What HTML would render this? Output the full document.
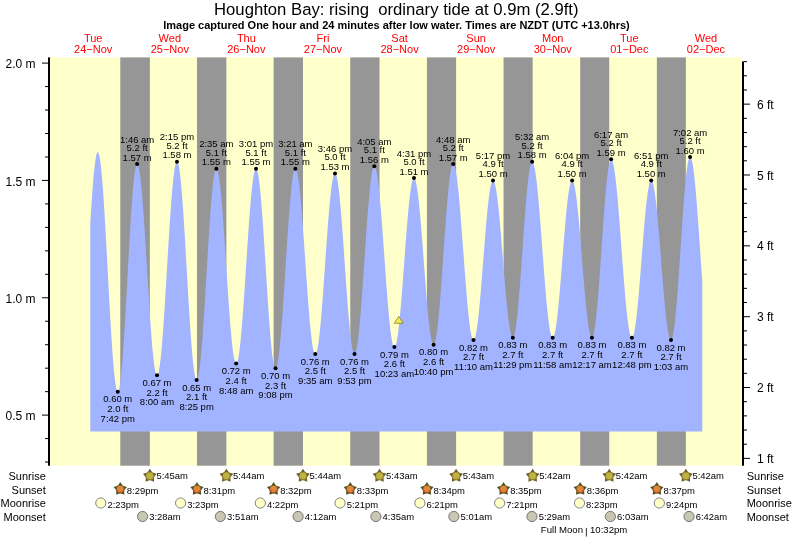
<!DOCTYPE html>
<html><head><meta charset="utf-8"><style>
html,body{margin:0;padding:0;background:#fff;overflow:hidden}
svg{display:block;will-change:transform}
text{font-family:"Liberation Sans",sans-serif}
</style></head><body>
<svg width="793" height="539" viewBox="0 0 793 539">
<rect x="50" y="57.4" width="692" height="408.3" fill="#ffffcc"/>
<rect x="120.27" y="57.4" width="29.57" height="408.3" fill="#969696"/>
<rect x="196.97" y="57.4" width="29.41" height="408.3" fill="#969696"/>
<rect x="273.62" y="57.4" width="29.36" height="408.3" fill="#969696"/>
<rect x="350.26" y="57.4" width="29.25" height="408.3" fill="#969696"/>
<rect x="426.91" y="57.4" width="29.20" height="408.3" fill="#969696"/>
<rect x="503.56" y="57.4" width="29.09" height="408.3" fill="#969696"/>
<rect x="580.20" y="57.4" width="29.04" height="408.3" fill="#969696"/>
<rect x="656.85" y="57.4" width="28.99" height="408.3" fill="#969696"/>
<path d="M90.30,431.50 L90.30,223.23 L90.55,219.09 L90.80,215.02 L91.05,211.03 L91.30,207.13 L91.55,203.32 L91.80,199.60 L92.05,196.00 L92.30,192.50 L92.55,189.12 L92.80,185.85 L93.05,182.72 L93.30,179.71 L93.55,176.84 L93.80,174.11 L94.05,171.53 L94.30,169.09 L94.55,166.81 L94.80,164.68 L95.05,162.71 L95.30,160.91 L95.55,159.26 L95.80,157.79 L96.05,156.49 L96.30,155.36 L96.55,154.40 L96.80,153.62 L97.05,153.02 L97.30,152.59 L97.55,152.34 L97.80,152.28 L98.05,152.39 L98.30,152.69 L98.55,153.17 L98.80,153.83 L99.05,154.68 L99.30,155.71 L99.55,156.92 L99.80,158.30 L100.05,159.86 L100.30,161.59 L100.55,163.50 L100.80,165.57 L101.05,167.80 L101.30,170.20 L101.55,172.75 L101.80,175.45 L102.05,178.31 L102.30,181.30 L102.55,184.44 L102.80,187.71 L103.05,191.12 L103.30,194.64 L103.55,198.29 L103.80,202.05 L104.05,205.92 L104.30,209.89 L104.55,213.95 L104.80,218.11 L105.05,222.35 L105.30,226.66 L105.55,231.05 L105.80,235.49 L106.05,240.00 L106.30,244.55 L106.55,249.14 L106.80,253.77 L107.05,258.43 L107.30,263.11 L107.55,267.80 L107.80,272.50 L108.05,277.20 L108.30,281.89 L108.55,286.57 L108.80,291.22 L109.05,295.84 L109.30,300.43 L109.55,304.97 L109.80,309.46 L110.05,313.89 L110.30,318.26 L110.55,322.56 L110.80,326.78 L111.05,330.91 L111.30,334.96 L111.55,338.90 L111.80,342.75 L112.05,346.48 L112.30,350.10 L112.55,353.60 L112.80,356.97 L113.05,360.21 L113.30,363.32 L113.55,366.28 L113.80,369.10 L114.05,371.77 L114.30,374.29 L114.55,376.65 L114.80,378.84 L115.05,380.87 L115.30,382.74 L115.55,384.43 L115.80,385.95 L116.05,387.29 L116.30,388.46 L116.55,389.44 L116.80,390.25 L117.05,390.87 L117.30,391.31 L117.55,391.57 L117.80,391.64 L118.05,391.52 L118.30,391.22 L118.55,390.73 L118.80,390.05 L119.05,389.19 L119.30,388.15 L119.55,386.93 L119.80,385.52 L120.05,383.94 L120.30,382.19 L120.55,380.26 L120.80,378.16 L121.05,375.90 L121.30,373.48 L121.55,370.90 L121.80,368.17 L122.05,365.28 L122.30,362.26 L122.55,359.09 L122.80,355.80 L123.05,352.37 L123.30,348.82 L123.55,345.15 L123.80,341.38 L124.05,337.50 L124.30,333.52 L124.55,329.44 L124.80,325.29 L125.05,321.05 L125.30,316.75 L125.55,312.38 L125.80,307.95 L126.05,303.48 L126.30,298.96 L126.55,294.41 L126.80,289.83 L127.05,285.23 L127.30,280.61 L127.55,276.00 L127.80,271.38 L128.05,266.78 L128.30,262.20 L128.55,257.64 L128.80,253.11 L129.05,248.63 L129.30,244.19 L129.55,239.81 L129.80,235.49 L130.05,231.24 L130.30,227.06 L130.55,222.98 L130.80,218.98 L131.05,215.07 L131.30,211.27 L131.55,207.58 L131.80,204.01 L132.05,200.56 L132.30,197.23 L132.55,194.04 L132.80,190.98 L133.05,188.07 L133.30,185.31 L133.55,182.69 L133.80,180.24 L134.05,177.94 L134.30,175.81 L134.55,173.85 L134.80,172.06 L135.05,170.44 L135.30,169.00 L135.55,167.74 L135.80,166.66 L136.05,165.76 L136.30,165.04 L136.55,164.51 L136.80,164.17 L137.05,164.02 L137.30,164.05 L137.55,164.24 L137.80,164.60 L138.05,165.12 L138.30,165.80 L138.55,166.65 L138.80,167.65 L139.05,168.82 L139.30,170.14 L139.55,171.62 L139.80,173.25 L140.05,175.03 L140.30,176.95 L140.55,179.02 L140.80,181.24 L141.05,183.59 L141.30,186.07 L141.55,188.69 L141.80,191.43 L142.05,194.29 L142.30,197.27 L142.55,200.37 L142.80,203.57 L143.05,206.87 L143.30,210.27 L143.55,213.77 L143.80,217.35 L144.05,221.01 L144.30,224.75 L144.55,228.56 L144.80,232.43 L145.05,236.36 L145.30,240.34 L145.55,244.37 L145.80,248.44 L146.05,252.54 L146.30,256.66 L146.55,260.81 L146.80,264.97 L147.05,269.14 L147.30,273.31 L147.55,277.47 L147.80,281.62 L148.05,285.75 L148.30,289.86 L148.55,293.93 L148.80,297.97 L149.05,301.96 L149.30,305.91 L149.55,309.79 L149.80,313.62 L150.05,317.37 L150.30,321.05 L150.55,324.65 L150.80,328.16 L151.05,331.59 L151.30,334.91 L151.55,338.14 L151.80,341.26 L152.05,344.26 L152.30,347.15 L152.55,349.92 L152.80,352.57 L153.05,355.08 L153.30,357.46 L153.55,359.71 L153.80,361.81 L154.05,363.77 L154.30,365.58 L154.55,367.25 L154.80,368.76 L155.05,370.12 L155.30,371.32 L155.55,372.36 L155.80,373.24 L156.05,373.96 L156.30,374.52 L156.55,374.91 L156.80,375.14 L157.05,375.21 L157.30,375.11 L157.55,374.85 L157.80,374.42 L158.05,373.82 L158.30,373.06 L158.55,372.15 L158.80,371.06 L159.05,369.83 L159.30,368.43 L159.55,366.88 L159.80,365.17 L160.05,363.32 L160.30,361.32 L160.55,359.17 L160.80,356.89 L161.05,354.46 L161.30,351.91 L161.55,349.22 L161.80,346.41 L162.05,343.48 L162.30,340.43 L162.55,337.27 L162.80,334.00 L163.05,330.63 L163.30,327.17 L163.55,323.61 L163.80,319.97 L164.05,316.25 L164.30,312.46 L164.55,308.59 L164.80,304.67 L165.05,300.68 L165.30,296.65 L165.55,292.58 L165.80,288.46 L166.05,284.32 L166.30,280.15 L166.55,275.96 L166.80,271.76 L167.05,267.56 L167.30,263.36 L167.55,259.16 L167.80,254.98 L168.05,250.82 L168.30,246.69 L168.55,242.59 L168.80,238.54 L169.05,234.52 L169.30,230.56 L169.55,226.66 L169.80,222.83 L170.05,219.06 L170.30,215.37 L170.55,211.77 L170.80,208.25 L171.05,204.82 L171.30,201.50 L171.55,198.27 L171.80,195.16 L172.05,192.16 L172.30,189.28 L172.55,186.52 L172.80,183.89 L173.05,181.38 L173.30,179.02 L173.55,176.79 L173.80,174.70 L174.05,172.76 L174.30,170.97 L174.55,169.33 L174.80,167.84 L175.05,166.51 L175.30,165.34 L175.55,164.32 L175.80,163.47 L176.05,162.78 L176.30,162.26 L176.55,161.90 L176.80,161.70 L177.05,161.67 L177.30,161.81 L177.55,162.13 L177.80,162.62 L178.05,163.28 L178.30,164.11 L178.55,165.11 L178.80,166.28 L179.05,167.62 L179.30,169.12 L179.55,170.78 L179.80,172.60 L180.05,174.58 L180.30,176.71 L180.55,178.99 L180.80,181.42 L181.05,183.99 L181.30,186.70 L181.55,189.54 L181.80,192.51 L182.05,195.60 L182.30,198.82 L182.55,202.15 L182.80,205.59 L183.05,209.13 L183.30,212.77 L183.55,216.51 L183.80,220.33 L184.05,224.23 L184.30,228.20 L184.55,232.24 L184.80,236.35 L185.05,240.51 L185.30,244.71 L185.55,248.96 L185.80,253.25 L186.05,257.56 L186.30,261.89 L186.55,266.23 L186.80,270.59 L187.05,274.94 L187.30,279.29 L187.55,283.62 L187.80,287.94 L188.05,292.22 L188.30,296.47 L188.55,300.68 L188.80,304.85 L189.05,308.96 L189.30,313.00 L189.55,316.99 L189.80,320.89 L190.05,324.72 L190.30,328.46 L190.55,332.11 L190.80,335.66 L191.05,339.11 L191.30,342.45 L191.55,345.68 L191.80,348.79 L192.05,351.77 L192.30,354.62 L192.55,357.34 L192.80,359.92 L193.05,362.36 L193.30,364.66 L193.55,366.80 L193.80,368.79 L194.05,370.63 L194.30,372.31 L194.55,373.82 L194.80,375.17 L195.05,376.36 L195.30,377.38 L195.55,378.22 L195.80,378.90 L196.05,379.40 L196.30,379.73 L196.55,379.89 L196.80,379.87 L197.05,379.69 L197.30,379.34 L197.55,378.82 L197.80,378.13 L198.05,377.28 L198.30,376.27 L198.55,375.09 L198.80,373.75 L199.05,372.26 L199.30,370.61 L199.55,368.80 L199.80,366.84 L200.05,364.74 L200.30,362.49 L200.55,360.11 L200.80,357.58 L201.05,354.92 L201.30,352.14 L201.55,349.23 L201.80,346.20 L202.05,343.06 L202.30,339.81 L202.55,336.45 L202.80,332.99 L203.05,329.44 L203.30,325.81 L203.55,322.09 L203.80,318.29 L204.05,314.43 L204.30,310.50 L204.55,306.51 L204.80,302.47 L205.05,298.39 L205.30,294.27 L205.55,290.11 L205.80,285.94 L206.05,281.74 L206.30,277.53 L206.55,273.32 L206.80,269.10 L207.05,264.90 L207.30,260.71 L207.55,256.54 L207.80,252.41 L208.05,248.30 L208.30,244.24 L208.55,240.22 L208.80,236.26 L209.05,232.36 L209.30,228.53 L209.55,224.77 L209.80,221.09 L210.05,217.49 L210.30,213.98 L210.55,210.57 L210.80,207.27 L211.05,204.06 L211.30,200.97 L211.55,198.00 L211.80,195.15 L212.05,192.42 L212.30,189.83 L212.55,187.37 L212.80,185.04 L213.05,182.86 L213.30,180.83 L213.55,178.94 L213.80,177.21 L214.05,175.63 L214.30,174.21 L214.55,172.94 L214.80,171.84 L215.05,170.90 L215.30,170.13 L215.55,169.52 L215.80,169.08 L216.05,168.81 L216.30,168.70 L216.55,168.76 L216.80,168.97 L217.05,169.33 L217.30,169.84 L217.55,170.51 L217.80,171.32 L218.05,172.28 L218.30,173.39 L218.55,174.65 L218.80,176.05 L219.05,177.59 L219.30,179.26 L219.55,181.08 L219.80,183.02 L220.05,185.10 L220.30,187.30 L220.55,189.63 L220.80,192.08 L221.05,194.64 L221.30,197.32 L221.55,200.10 L221.80,202.99 L222.05,205.97 L222.30,209.05 L222.55,212.22 L222.80,215.47 L223.05,218.81 L223.30,222.21 L223.55,225.69 L223.80,229.23 L224.05,232.82 L224.30,236.47 L224.55,240.17 L224.80,243.90 L225.05,247.67 L225.30,251.47 L225.55,255.29 L225.80,259.13 L226.05,262.98 L226.30,266.84 L226.55,270.69 L226.80,274.54 L227.05,278.37 L227.30,282.18 L227.55,285.97 L227.80,289.73 L228.05,293.45 L228.30,297.13 L228.55,300.76 L228.80,304.33 L229.05,307.85 L229.30,311.30 L229.55,314.67 L229.80,317.98 L230.05,321.20 L230.30,324.33 L230.55,327.38 L230.80,330.32 L231.05,333.17 L231.30,335.91 L231.55,338.54 L231.80,341.06 L232.05,343.46 L232.30,345.74 L232.55,347.90 L232.80,349.93 L233.05,351.82 L233.30,353.58 L233.55,355.21 L233.80,356.69 L234.05,358.03 L234.30,359.23 L234.55,360.28 L234.80,361.19 L235.05,361.95 L235.30,362.55 L235.55,363.01 L235.80,363.31 L236.05,363.46 L236.30,363.46 L236.55,363.30 L236.80,363.00 L237.05,362.54 L237.30,361.93 L237.55,361.17 L237.80,360.26 L238.05,359.20 L238.30,358.00 L238.55,356.65 L238.80,355.16 L239.05,353.54 L239.30,351.77 L239.55,349.87 L239.80,347.84 L240.05,345.68 L240.30,343.40 L240.55,340.99 L240.80,338.47 L241.05,335.84 L241.30,333.09 L241.55,330.24 L241.80,327.29 L242.05,324.25 L242.30,321.11 L242.55,317.89 L242.80,314.58 L243.05,311.20 L243.30,307.75 L243.55,304.23 L243.80,300.66 L244.05,297.03 L244.30,293.35 L244.55,289.63 L244.80,285.87 L245.05,282.08 L245.30,278.26 L245.55,274.43 L245.80,270.58 L246.05,266.73 L246.30,262.87 L246.55,259.02 L246.80,255.19 L247.05,251.36 L247.30,247.57 L247.55,243.80 L247.80,240.06 L248.05,236.37 L248.30,232.72 L248.55,229.13 L248.80,225.59 L249.05,222.12 L249.30,218.71 L249.55,215.38 L249.80,212.13 L250.05,208.96 L250.30,205.89 L250.55,202.90 L250.80,200.02 L251.05,197.24 L251.30,194.57 L251.55,192.01 L251.80,189.57 L252.05,187.24 L252.30,185.04 L252.55,182.97 L252.80,181.02 L253.05,179.21 L253.30,177.54 L253.55,176.01 L253.80,174.61 L254.05,173.36 L254.30,172.26 L254.55,171.30 L254.80,170.49 L255.05,169.83 L255.30,169.32 L255.55,168.96 L255.80,168.76 L256.05,168.70 L256.30,168.81 L256.55,169.08 L256.80,169.50 L257.05,170.09 L257.30,170.84 L257.55,171.74 L257.80,172.81 L258.05,174.02 L258.30,175.39 L258.55,176.91 L258.80,178.58 L259.05,180.39 L259.30,182.35 L259.55,184.44 L259.80,186.67 L260.05,189.04 L260.30,191.53 L260.55,194.14 L260.80,196.88 L261.05,199.73 L261.30,202.70 L261.55,205.77 L261.80,208.94 L262.05,212.21 L262.30,215.57 L262.55,219.01 L262.80,222.53 L263.05,226.13 L263.30,229.80 L263.55,233.53 L263.80,237.32 L264.05,241.15 L264.30,245.03 L264.55,248.95 L264.80,252.90 L265.05,256.88 L265.30,260.87 L265.55,264.88 L265.80,268.89 L266.05,272.90 L266.30,276.90 L266.55,280.90 L266.80,284.87 L267.05,288.81 L267.30,292.72 L267.55,296.59 L267.80,300.42 L268.05,304.19 L268.30,307.91 L268.55,311.56 L268.80,315.14 L269.05,318.65 L269.30,322.07 L269.55,325.41 L269.80,328.66 L270.05,331.81 L270.30,334.85 L270.55,337.79 L270.80,340.62 L271.05,343.33 L271.30,345.92 L271.55,348.38 L271.80,350.72 L272.05,352.92 L272.30,354.98 L272.55,356.90 L272.80,358.68 L273.05,360.32 L273.30,361.80 L273.55,363.14 L273.80,364.32 L274.05,365.35 L274.30,366.22 L274.55,366.93 L274.80,367.48 L275.05,367.87 L275.30,368.10 L275.55,368.17 L275.80,368.08 L276.05,367.84 L276.30,367.43 L276.55,366.88 L276.80,366.17 L277.05,365.30 L277.30,364.29 L277.55,363.12 L277.80,361.81 L278.05,360.35 L278.30,358.74 L278.55,357.00 L278.80,355.11 L279.05,353.09 L279.30,350.94 L279.55,348.66 L279.80,346.25 L280.05,343.72 L280.30,341.07 L280.55,338.31 L280.80,335.44 L281.05,332.46 L281.30,329.39 L281.55,326.21 L281.80,322.95 L282.05,319.60 L282.30,316.17 L282.55,312.67 L282.80,309.10 L283.05,305.46 L283.30,301.77 L283.55,298.02 L283.80,294.23 L284.05,290.40 L284.30,286.53 L284.55,282.63 L284.80,278.72 L285.05,274.78 L285.30,270.84 L285.55,266.89 L285.80,262.94 L286.05,259.01 L286.30,255.09 L286.55,251.18 L286.80,247.31 L287.05,243.47 L287.30,239.67 L287.55,235.91 L287.80,232.20 L288.05,228.56 L288.30,224.97 L288.55,221.45 L288.80,218.01 L289.05,214.64 L289.30,211.36 L289.55,208.17 L289.80,205.07 L290.05,202.07 L290.30,199.18 L290.55,196.39 L290.80,193.72 L291.05,191.16 L291.30,188.73 L291.55,186.42 L291.80,184.23 L292.05,182.18 L292.30,180.27 L292.55,178.49 L292.80,176.86 L293.05,175.37 L293.30,174.02 L293.55,172.82 L293.80,171.78 L294.05,170.88 L294.30,170.13 L294.55,169.55 L294.80,169.11 L295.05,168.83 L295.30,168.71 L295.55,168.74 L295.80,168.91 L296.05,169.23 L296.30,169.70 L296.55,170.30 L296.80,171.05 L297.05,171.94 L297.30,172.97 L297.55,174.13 L297.80,175.43 L298.05,176.87 L298.30,178.44 L298.55,180.13 L298.80,181.96 L299.05,183.90 L299.30,185.97 L299.55,188.16 L299.80,190.46 L300.05,192.87 L300.30,195.38 L300.55,198.00 L300.80,200.72 L301.05,203.54 L301.30,206.44 L301.55,209.43 L301.80,212.50 L302.05,215.65 L302.30,218.86 L302.55,222.15 L302.80,225.49 L303.05,228.89 L303.30,232.35 L303.55,235.84 L303.80,239.38 L304.05,242.95 L304.30,246.55 L304.55,250.17 L304.80,253.81 L305.05,257.47 L305.30,261.13 L305.55,264.78 L305.80,268.44 L306.05,272.08 L306.30,275.71 L306.55,279.31 L306.80,282.89 L307.05,286.43 L307.30,289.93 L307.55,293.39 L307.80,296.80 L308.05,300.15 L308.30,303.45 L308.55,306.67 L308.80,309.83 L309.05,312.91 L309.30,315.91 L309.55,318.83 L309.80,321.66 L310.05,324.39 L310.30,327.03 L310.55,329.56 L310.80,331.99 L311.05,334.30 L311.30,336.50 L311.55,338.59 L311.80,340.56 L312.05,342.40 L312.30,344.11 L312.55,345.70 L312.80,347.16 L313.05,348.48 L313.30,349.66 L313.55,350.71 L313.80,351.62 L314.05,352.39 L314.30,353.02 L314.55,353.50 L314.80,353.84 L315.05,354.04 L315.30,354.09 L315.55,354.00 L315.80,353.76 L316.05,353.39 L316.30,352.87 L316.55,352.21 L316.80,351.41 L317.05,350.47 L317.30,349.39 L317.55,348.18 L317.80,346.83 L318.05,345.36 L318.30,343.75 L318.55,342.01 L318.80,340.16 L319.05,338.18 L319.30,336.08 L319.55,333.87 L319.80,331.55 L320.05,329.12 L320.30,326.59 L320.55,323.95 L320.80,321.23 L321.05,318.41 L321.30,315.50 L321.55,312.51 L321.80,309.45 L322.05,306.31 L322.30,303.11 L322.55,299.84 L322.80,296.52 L323.05,293.14 L323.30,289.72 L323.55,286.25 L323.80,282.76 L324.05,279.23 L324.30,275.67 L324.55,272.10 L324.80,268.51 L325.05,264.92 L325.30,261.32 L325.55,257.73 L325.80,254.15 L326.05,250.58 L326.30,247.04 L326.55,243.52 L326.80,240.03 L327.05,236.58 L327.30,233.17 L327.55,229.81 L327.80,226.51 L328.05,223.26 L328.30,220.08 L328.55,216.97 L328.80,213.93 L329.05,210.97 L329.30,208.09 L329.55,205.31 L329.80,202.61 L330.05,200.01 L330.30,197.51 L330.55,195.12 L330.80,192.84 L331.05,190.67 L331.30,188.61 L331.55,186.67 L331.80,184.86 L332.05,183.17 L332.30,181.60 L332.55,180.17 L332.80,178.87 L333.05,177.71 L333.30,176.68 L333.55,175.79 L333.80,175.03 L334.05,174.42 L334.30,173.95 L334.55,173.63 L334.80,173.44 L335.05,173.40 L335.30,173.50 L335.55,173.75 L335.80,174.15 L336.05,174.69 L336.30,175.37 L336.55,176.20 L336.80,177.17 L337.05,178.27 L337.30,179.52 L337.55,180.91 L337.80,182.42 L338.05,184.07 L338.30,185.85 L338.55,187.75 L338.80,189.78 L339.05,191.93 L339.30,194.19 L339.55,196.57 L339.80,199.05 L340.05,201.64 L340.30,204.33 L340.55,207.12 L340.80,210.00 L341.05,212.96 L341.30,216.01 L341.55,219.13 L341.80,222.33 L342.05,225.59 L342.30,228.92 L342.55,232.30 L342.80,235.73 L343.05,239.21 L343.30,242.72 L343.55,246.28 L343.80,249.86 L344.05,253.46 L344.30,257.08 L344.55,260.71 L344.80,264.34 L345.05,267.97 L345.30,271.60 L345.55,275.21 L345.80,278.81 L346.05,282.38 L346.30,285.92 L346.55,289.43 L346.80,292.89 L347.05,296.31 L347.30,299.67 L347.55,302.98 L347.80,306.22 L348.05,309.39 L348.30,312.49 L348.55,315.51 L348.80,318.45 L349.05,321.29 L349.30,324.05 L349.55,326.71 L349.80,329.26 L350.05,331.71 L350.30,334.05 L350.55,336.28 L350.80,338.38 L351.05,340.37 L351.30,342.23 L351.55,343.97 L351.80,345.58 L352.05,347.05 L352.30,348.39 L352.55,349.59 L352.80,350.65 L353.05,351.58 L353.30,352.36 L353.55,352.99 L353.80,353.49 L354.05,353.83 L354.30,354.03 L354.55,354.09 L354.80,354.00 L355.05,353.76 L355.30,353.37 L355.55,352.84 L355.80,352.16 L356.05,351.33 L356.30,350.36 L356.55,349.25 L356.80,348.00 L357.05,346.61 L357.30,345.09 L357.55,343.43 L357.80,341.64 L358.05,339.72 L358.30,337.68 L358.55,335.52 L358.80,333.23 L359.05,330.83 L359.30,328.32 L359.55,325.71 L359.80,322.99 L360.05,320.17 L360.30,317.25 L360.55,314.25 L360.80,311.16 L361.05,307.99 L361.30,304.75 L361.55,301.43 L361.80,298.05 L362.05,294.61 L362.30,291.12 L362.55,287.58 L362.80,283.99 L363.05,280.37 L363.30,276.72 L363.55,273.04 L363.80,269.34 L364.05,265.62 L364.30,261.90 L364.55,258.18 L364.80,254.45 L365.05,250.74 L365.30,247.04 L365.55,243.36 L365.80,239.71 L366.05,236.09 L366.30,232.51 L366.55,228.98 L366.80,225.49 L367.05,222.05 L367.30,218.68 L367.55,215.37 L367.80,212.14 L368.05,208.98 L368.30,205.90 L368.55,202.90 L368.80,200.00 L369.05,197.19 L369.30,194.48 L369.55,191.87 L369.80,189.37 L370.05,186.98 L370.30,184.71 L370.55,182.56 L370.80,180.53 L371.05,178.62 L371.30,176.84 L371.55,175.20 L371.80,173.69 L372.05,172.31 L372.30,171.08 L372.55,169.98 L372.80,169.03 L373.05,168.21 L373.30,167.55 L373.55,167.03 L373.80,166.66 L374.05,166.43 L374.30,166.35 L374.55,166.42 L374.80,166.62 L375.05,166.96 L375.30,167.44 L375.55,168.06 L375.80,168.81 L376.05,169.69 L376.30,170.70 L376.55,171.85 L376.80,173.13 L377.05,174.53 L377.30,176.06 L377.55,177.72 L377.80,179.49 L378.05,181.38 L378.30,183.39 L378.55,185.50 L378.80,187.73 L379.05,190.06 L379.30,192.49 L379.55,195.03 L379.80,197.65 L380.05,200.37 L380.30,203.17 L380.55,206.05 L380.80,209.01 L381.05,212.04 L381.30,215.15 L381.55,218.31 L381.80,221.53 L382.05,224.81 L382.30,228.14 L382.55,231.51 L382.80,234.91 L383.05,238.35 L383.30,241.82 L383.55,245.31 L383.80,248.82 L384.05,252.34 L384.30,255.87 L384.55,259.40 L384.80,262.93 L385.05,266.44 L385.30,269.94 L385.55,273.42 L385.80,276.88 L386.05,280.30 L386.30,283.69 L386.55,287.03 L386.80,290.34 L387.05,293.58 L387.30,296.78 L387.55,299.91 L387.80,302.97 L388.05,305.97 L388.30,308.89 L388.55,311.73 L388.80,314.49 L389.05,317.16 L389.30,319.73 L389.55,322.21 L389.80,324.59 L390.05,326.87 L390.30,329.04 L390.55,331.10 L390.80,333.04 L391.05,334.87 L391.30,336.58 L391.55,338.17 L391.80,339.63 L392.05,340.97 L392.30,342.18 L392.55,343.25 L392.80,344.20 L393.05,345.01 L393.30,345.69 L393.55,346.23 L393.80,346.64 L394.05,346.91 L394.30,347.04 L394.55,347.03 L394.80,346.89 L395.05,346.61 L395.30,346.19 L395.55,345.64 L395.80,344.96 L396.05,344.15 L396.30,343.20 L396.55,342.12 L396.80,340.92 L397.05,339.59 L397.30,338.14 L397.55,336.56 L397.80,334.86 L398.05,333.05 L398.30,331.13 L398.55,329.09 L398.80,326.95 L399.05,324.70 L399.30,322.36 L399.55,319.91 L399.80,317.38 L400.05,314.76 L400.30,312.05 L400.55,309.26 L400.80,306.40 L401.05,303.47 L401.30,300.47 L401.55,297.41 L401.80,294.30 L402.05,291.13 L402.30,287.92 L402.55,284.66 L402.80,281.38 L403.05,278.06 L403.30,274.71 L403.55,271.35 L403.80,267.97 L404.05,264.59 L404.30,261.20 L404.55,257.81 L404.80,254.43 L405.05,251.06 L405.30,247.71 L405.55,244.39 L405.80,241.10 L406.05,237.84 L406.30,234.62 L406.55,231.44 L406.80,228.31 L407.05,225.24 L407.30,222.23 L407.55,219.29 L407.80,216.41 L408.05,213.61 L408.30,210.89 L408.55,208.25 L408.80,205.70 L409.05,203.24 L409.30,200.87 L409.55,198.61 L409.80,196.45 L410.05,194.39 L410.30,192.44 L410.55,190.61 L410.80,188.89 L411.05,187.29 L411.30,185.82 L411.55,184.46 L411.80,183.23 L412.05,182.13 L412.30,181.16 L412.55,180.32 L412.80,179.61 L413.05,179.04 L413.30,178.60 L413.55,178.29 L413.80,178.13 L414.05,178.09 L414.30,178.19 L414.55,178.43 L414.80,178.79 L415.05,179.29 L415.30,179.92 L415.55,180.69 L415.80,181.58 L416.05,182.59 L416.30,183.74 L416.55,185.01 L416.80,186.40 L417.05,187.91 L417.30,189.54 L417.55,191.28 L417.80,193.14 L418.05,195.10 L418.30,197.18 L418.55,199.35 L418.80,201.62 L419.05,203.99 L419.30,206.45 L419.55,209.00 L419.80,211.64 L420.05,214.35 L420.30,217.14 L420.55,220.00 L420.80,222.92 L421.05,225.91 L421.30,228.95 L421.55,232.05 L421.80,235.19 L422.05,238.37 L422.30,241.60 L422.55,244.85 L422.80,248.13 L423.05,251.43 L423.30,254.75 L423.55,258.07 L423.80,261.41 L424.05,264.74 L424.30,268.07 L424.55,271.38 L424.80,274.68 L425.05,277.96 L425.30,281.22 L425.55,284.44 L425.80,287.62 L426.05,290.76 L426.30,293.86 L426.55,296.90 L426.80,299.89 L427.05,302.81 L427.30,305.67 L427.55,308.46 L427.80,311.17 L428.05,313.80 L428.30,316.35 L428.55,318.81 L428.80,321.18 L429.05,323.46 L429.30,325.63 L429.55,327.70 L429.80,329.67 L430.05,331.52 L430.30,333.26 L430.55,334.89 L430.80,336.40 L431.05,337.79 L431.30,339.06 L431.55,340.20 L431.80,341.22 L432.05,342.11 L432.30,342.87 L432.55,343.50 L432.80,344.00 L433.05,344.37 L433.30,344.60 L433.55,344.70 L433.80,344.66 L434.05,344.48 L434.30,344.16 L434.55,343.68 L434.80,343.07 L435.05,342.31 L435.30,341.41 L435.55,340.37 L435.80,339.19 L436.05,337.88 L436.30,336.43 L436.55,334.85 L436.80,333.14 L437.05,331.30 L437.30,329.34 L437.55,327.26 L437.80,325.06 L438.05,322.74 L438.30,320.32 L438.55,317.79 L438.80,315.16 L439.05,312.43 L439.30,309.61 L439.55,306.70 L439.80,303.70 L440.05,300.62 L440.30,297.47 L440.55,294.25 L440.80,290.97 L441.05,287.63 L441.30,284.23 L441.55,280.79 L441.80,277.30 L442.05,273.78 L442.30,270.22 L442.55,266.64 L442.80,263.04 L443.05,259.43 L443.30,255.80 L443.55,252.18 L443.80,248.56 L444.05,244.94 L444.30,241.35 L444.55,237.77 L444.80,234.22 L445.05,230.71 L445.30,227.23 L445.55,223.79 L445.80,220.41 L446.05,217.07 L446.30,213.80 L446.55,210.60 L446.80,207.46 L447.05,204.40 L447.30,201.42 L447.55,198.53 L447.80,195.72 L448.05,193.01 L448.30,190.40 L448.55,187.89 L448.80,185.49 L449.05,183.20 L449.30,181.02 L449.55,178.97 L449.80,177.03 L450.05,175.22 L450.30,173.53 L450.55,171.98 L450.80,170.56 L451.05,169.27 L451.30,168.12 L451.55,167.11 L451.80,166.24 L452.05,165.51 L452.30,164.92 L452.55,164.48 L452.80,164.18 L453.05,164.03 L453.30,164.02 L453.55,164.15 L453.80,164.40 L454.05,164.79 L454.30,165.31 L454.55,165.96 L454.80,166.73 L455.05,167.63 L455.30,168.66 L455.55,169.82 L455.80,171.09 L456.05,172.49 L456.30,174.01 L456.55,175.64 L456.80,177.39 L457.05,179.25 L457.30,181.21 L457.55,183.29 L457.80,185.46 L458.05,187.74 L458.30,190.11 L458.55,192.57 L458.80,195.12 L459.05,197.76 L459.30,200.48 L459.55,203.27 L459.80,206.14 L460.05,209.08 L460.30,212.08 L460.55,215.14 L460.80,218.25 L461.05,221.42 L461.30,224.63 L461.55,227.88 L461.80,231.17 L462.05,234.49 L462.30,237.84 L462.55,241.21 L462.80,244.59 L463.05,247.98 L463.30,251.38 L463.55,254.78 L463.80,258.18 L464.05,261.57 L464.30,264.94 L464.55,268.30 L464.80,271.63 L465.05,274.93 L465.30,278.19 L465.55,281.42 L465.80,284.60 L466.05,287.74 L466.30,290.82 L466.55,293.84 L466.80,296.80 L467.05,299.70 L467.30,302.52 L467.55,305.27 L467.80,307.93 L468.05,310.52 L468.30,313.02 L468.55,315.42 L468.80,317.73 L469.05,319.94 L469.30,322.05 L469.55,324.06 L469.80,325.96 L470.05,327.75 L470.30,329.42 L470.55,330.98 L470.80,332.42 L471.05,333.75 L471.30,334.94 L471.55,336.02 L471.80,336.97 L472.05,337.79 L472.30,338.49 L472.55,339.05 L472.80,339.49 L473.05,339.79 L473.30,339.97 L473.55,340.01 L473.80,339.92 L474.05,339.70 L474.30,339.36 L474.55,338.89 L474.80,338.28 L475.05,337.56 L475.30,336.71 L475.55,335.73 L475.80,334.63 L476.05,333.41 L476.30,332.08 L476.55,330.62 L476.80,329.05 L477.05,327.38 L477.30,325.59 L477.55,323.70 L477.80,321.70 L478.05,319.60 L478.30,317.41 L478.55,315.13 L478.80,312.75 L479.05,310.30 L479.30,307.76 L479.55,305.14 L479.80,302.45 L480.05,299.70 L480.30,296.87 L480.55,293.99 L480.80,291.06 L481.05,288.07 L481.30,285.04 L481.55,281.97 L481.80,278.87 L482.05,275.73 L482.30,272.57 L482.55,269.39 L482.80,266.20 L483.05,262.99 L483.30,259.78 L483.55,256.57 L483.80,253.37 L484.05,250.18 L484.30,247.00 L484.55,243.85 L484.80,240.72 L485.05,237.62 L485.30,234.56 L485.55,231.55 L485.80,228.57 L486.05,225.65 L486.30,222.79 L486.55,219.99 L486.80,217.25 L487.05,214.58 L487.30,211.98 L487.55,209.47 L487.80,207.03 L488.05,204.68 L488.30,202.42 L488.55,200.26 L488.80,198.19 L489.05,196.22 L489.30,194.36 L489.55,192.60 L489.80,190.95 L490.05,189.41 L490.30,187.99 L490.55,186.69 L490.80,185.50 L491.05,184.44 L491.30,183.49 L491.55,182.68 L491.80,181.98 L492.05,181.42 L492.30,180.98 L492.55,180.67 L492.80,180.49 L493.05,180.44 L493.30,180.51 L493.55,180.71 L493.80,181.03 L494.05,181.47 L494.30,182.04 L494.55,182.73 L494.80,183.53 L495.05,184.46 L495.30,185.50 L495.55,186.66 L495.80,187.94 L496.05,189.32 L496.30,190.82 L496.55,192.42 L496.80,194.13 L497.05,195.94 L497.30,197.85 L497.55,199.86 L497.80,201.96 L498.05,204.15 L498.30,206.42 L498.55,208.78 L498.80,211.22 L499.05,213.73 L499.30,216.32 L499.55,218.97 L499.80,221.69 L500.05,224.46 L500.30,227.29 L500.55,230.17 L500.80,233.09 L501.05,236.06 L501.30,239.06 L501.55,242.09 L501.80,245.15 L502.05,248.23 L502.30,251.33 L502.55,254.44 L502.80,257.56 L503.05,260.68 L503.30,263.80 L503.55,266.91 L503.80,270.01 L504.05,273.09 L504.30,276.14 L504.55,279.18 L504.80,282.18 L505.05,285.14 L505.30,288.06 L505.55,290.94 L505.80,293.76 L506.05,296.54 L506.30,299.25 L506.55,301.90 L506.80,304.48 L507.05,306.99 L507.30,309.42 L507.55,311.78 L507.80,314.05 L508.05,316.24 L508.30,318.33 L508.55,320.34 L508.80,322.24 L509.05,324.05 L509.30,325.75 L509.55,327.35 L509.80,328.84 L510.05,330.22 L510.30,331.49 L510.55,332.65 L510.80,333.68 L511.05,334.61 L511.30,335.41 L511.55,336.09 L511.80,336.65 L512.05,337.09 L512.30,337.40 L512.55,337.60 L512.80,337.66 L513.05,337.60 L513.30,337.39 L513.55,337.03 L513.80,336.53 L514.05,335.89 L514.30,335.10 L514.55,334.17 L514.80,333.10 L515.05,331.90 L515.30,330.55 L515.55,329.08 L515.80,327.47 L516.05,325.74 L516.30,323.87 L516.55,321.89 L516.80,319.78 L517.05,317.56 L517.30,315.23 L517.55,312.79 L517.80,310.24 L518.05,307.60 L518.30,304.86 L518.55,302.02 L518.80,299.11 L519.05,296.10 L519.30,293.03 L519.55,289.88 L519.80,286.66 L520.05,283.38 L520.30,280.05 L520.55,276.66 L520.80,273.24 L521.05,269.77 L521.30,266.27 L521.55,262.74 L521.80,259.19 L522.05,255.62 L522.30,252.05 L522.55,248.47 L522.80,244.89 L523.05,241.32 L523.30,237.77 L523.55,234.23 L523.80,230.72 L524.05,227.24 L524.30,223.80 L524.55,220.40 L524.80,217.05 L525.05,213.75 L525.30,210.52 L525.55,207.34 L525.80,204.24 L526.05,201.21 L526.30,198.27 L526.55,195.40 L526.80,192.63 L527.05,189.95 L527.30,187.37 L527.55,184.90 L527.80,182.53 L528.05,180.27 L528.30,178.13 L528.55,176.10 L528.80,174.20 L529.05,172.42 L529.30,170.77 L529.55,169.25 L529.80,167.86 L530.05,166.61 L530.30,165.49 L530.55,164.52 L530.80,163.69 L531.05,162.99 L531.30,162.44 L531.55,162.04 L531.80,161.78 L532.05,161.67 L532.30,161.69 L532.55,161.85 L532.80,162.14 L533.05,162.55 L533.30,163.09 L533.55,163.76 L533.80,164.55 L534.05,165.47 L534.30,166.51 L534.55,167.67 L534.80,168.95 L535.05,170.35 L535.30,171.87 L535.55,173.50 L535.80,175.24 L536.05,177.09 L536.30,179.05 L536.55,181.11 L536.80,183.27 L537.05,185.53 L537.30,187.88 L537.55,190.32 L537.80,192.85 L538.05,195.46 L538.30,198.15 L538.55,200.92 L538.80,203.76 L539.05,206.66 L539.30,209.63 L539.55,212.66 L539.80,215.74 L540.05,218.87 L540.30,222.04 L540.55,225.26 L540.80,228.51 L541.05,231.79 L541.30,235.10 L541.55,238.43 L541.80,241.78 L542.05,245.14 L542.30,248.50 L542.55,251.87 L542.80,255.23 L543.05,258.58 L543.30,261.93 L543.55,265.25 L543.80,268.55 L544.05,271.82 L544.30,275.06 L544.55,278.27 L544.80,281.43 L545.05,284.55 L545.30,287.61 L545.55,290.62 L545.80,293.57 L546.05,296.45 L546.30,299.27 L546.55,302.01 L546.80,304.68 L547.05,307.27 L547.30,309.77 L547.55,312.18 L547.80,314.50 L548.05,316.73 L548.30,318.86 L548.55,320.89 L548.80,322.82 L549.05,324.63 L549.30,326.34 L549.55,327.94 L549.80,329.42 L550.05,330.78 L550.30,332.03 L550.55,333.15 L550.80,334.15 L551.05,335.03 L551.30,335.79 L551.55,336.42 L551.80,336.92 L552.05,337.29 L552.30,337.54 L552.55,337.65 L552.80,337.64 L553.05,337.50 L553.30,337.23 L553.55,336.84 L553.80,336.32 L554.05,335.67 L554.30,334.90 L554.55,334.01 L554.80,332.99 L555.05,331.85 L555.30,330.59 L555.55,329.22 L555.80,327.74 L556.05,326.14 L556.30,324.43 L556.55,322.62 L556.80,320.70 L557.05,318.68 L557.30,316.57 L557.55,314.36 L557.80,312.06 L558.05,309.68 L558.30,307.21 L558.55,304.66 L558.80,302.04 L559.05,299.35 L559.30,296.60 L559.55,293.78 L559.80,290.91 L560.05,287.99 L560.30,285.01 L560.55,282.00 L560.80,278.95 L561.05,275.86 L561.30,272.75 L561.55,269.62 L561.80,266.47 L562.05,263.31 L562.30,260.14 L562.55,256.97 L562.80,253.80 L563.05,250.64 L563.30,247.49 L563.55,244.37 L563.80,241.26 L564.05,238.19 L564.30,235.15 L564.55,232.15 L564.80,229.19 L565.05,226.28 L565.30,223.43 L565.55,220.63 L565.80,217.89 L566.05,215.23 L566.30,212.63 L566.55,210.11 L566.80,207.67 L567.05,205.31 L567.30,203.04 L567.55,200.86 L567.80,198.77 L568.05,196.79 L568.30,194.90 L568.55,193.12 L568.80,191.45 L569.05,189.88 L569.30,188.43 L569.55,187.10 L569.80,185.88 L570.05,184.78 L570.30,183.80 L570.55,182.94 L570.80,182.21 L571.05,181.60 L571.30,181.12 L571.55,180.77 L571.80,180.54 L572.05,180.44 L572.30,180.47 L572.55,180.62 L572.80,180.89 L573.05,181.29 L573.30,181.80 L573.55,182.44 L573.80,183.20 L574.05,184.08 L574.30,185.07 L574.55,186.19 L574.80,187.41 L575.05,188.75 L575.30,190.20 L575.55,191.75 L575.80,193.41 L576.05,195.18 L576.30,197.04 L576.55,199.00 L576.80,201.06 L577.05,203.20 L577.30,205.43 L577.55,207.75 L577.80,210.15 L578.05,212.62 L578.30,215.17 L578.55,217.79 L578.80,220.47 L579.05,223.21 L579.30,226.01 L579.55,228.86 L579.80,231.75 L580.05,234.69 L580.30,237.67 L580.55,240.68 L580.80,243.72 L581.05,246.78 L581.30,249.86 L581.55,252.96 L581.80,256.07 L582.05,259.18 L582.30,262.29 L582.55,265.40 L582.80,268.49 L583.05,271.58 L583.30,274.64 L583.55,277.67 L583.80,280.68 L584.05,283.66 L584.30,286.59 L584.55,289.48 L584.80,292.33 L585.05,295.12 L585.30,297.86 L585.55,300.53 L585.80,303.14 L586.05,305.69 L586.30,308.15 L586.55,310.54 L586.80,312.86 L587.05,315.08 L587.30,317.22 L587.55,319.27 L587.80,321.22 L588.05,323.08 L588.30,324.83 L588.55,326.48 L588.80,328.03 L589.05,329.47 L589.30,330.80 L589.55,332.01 L589.80,333.11 L590.05,334.10 L590.30,334.97 L590.55,335.71 L590.80,336.34 L591.05,336.85 L591.30,337.24 L591.55,337.50 L591.80,337.64 L592.05,337.65 L592.30,337.52 L592.55,337.25 L592.80,336.82 L593.05,336.24 L593.30,335.52 L593.55,334.64 L593.80,333.63 L594.05,332.47 L594.30,331.17 L594.55,329.73 L594.80,328.15 L595.05,326.44 L595.30,324.60 L595.55,322.63 L595.80,320.54 L596.05,318.32 L596.30,315.99 L596.55,313.55 L596.80,310.99 L597.05,308.33 L597.30,305.57 L597.55,302.71 L597.80,299.76 L598.05,296.73 L598.30,293.61 L598.55,290.42 L598.80,287.16 L599.05,283.83 L599.30,280.44 L599.55,277.00 L599.80,273.51 L600.05,269.98 L600.30,266.41 L600.55,262.82 L600.80,259.20 L601.05,255.56 L601.30,251.91 L601.55,248.25 L601.80,244.59 L602.05,240.94 L602.30,237.31 L602.55,233.69 L602.80,230.09 L603.05,226.53 L603.30,223.01 L603.55,219.52 L603.80,216.09 L604.05,212.71 L604.30,209.39 L604.55,206.14 L604.80,202.96 L605.05,199.85 L605.30,196.83 L605.55,193.89 L605.80,191.04 L606.05,188.30 L606.30,185.65 L606.55,183.11 L606.80,180.68 L607.05,178.36 L607.30,176.16 L607.55,174.08 L607.80,172.13 L608.05,170.30 L608.30,168.61 L608.55,167.05 L608.80,165.63 L609.05,164.35 L609.30,163.21 L609.55,162.21 L609.80,161.36 L610.05,160.65 L610.30,160.10 L610.55,159.69 L610.80,159.43 L611.05,159.32 L611.30,159.35 L611.55,159.51 L611.80,159.80 L612.05,160.22 L612.30,160.76 L612.55,161.42 L612.80,162.21 L613.05,163.12 L613.30,164.16 L613.55,165.31 L613.80,166.59 L614.05,167.98 L614.30,169.48 L614.55,171.10 L614.80,172.83 L615.05,174.66 L615.30,176.61 L615.55,178.65 L615.80,180.79 L616.05,183.03 L616.30,185.37 L616.55,187.79 L616.80,190.30 L617.05,192.89 L617.30,195.56 L617.55,198.31 L617.80,201.13 L618.05,204.02 L618.30,206.97 L618.55,209.97 L618.80,213.04 L619.05,216.15 L619.30,219.31 L619.55,222.52 L619.80,225.76 L620.05,229.03 L620.30,232.33 L620.55,235.65 L620.80,238.99 L621.05,242.35 L621.30,245.71 L621.55,249.08 L621.80,252.44 L622.05,255.80 L622.30,259.15 L622.55,262.49 L622.80,265.80 L623.05,269.09 L623.30,272.35 L623.55,275.58 L623.80,278.77 L624.05,281.92 L624.30,285.01 L624.55,288.06 L624.80,291.05 L625.05,293.98 L625.30,296.84 L625.55,299.63 L625.80,302.36 L626.05,305.00 L626.30,307.56 L626.55,310.04 L626.80,312.44 L627.05,314.74 L627.30,316.94 L627.55,319.05 L627.80,321.06 L628.05,322.97 L628.30,324.76 L628.55,326.45 L628.80,328.03 L629.05,329.50 L629.30,330.85 L629.55,332.08 L629.80,333.19 L630.05,334.19 L630.30,335.06 L630.55,335.80 L630.80,336.42 L631.05,336.92 L631.30,337.29 L631.55,337.54 L631.80,337.65 L632.05,337.64 L632.30,337.50 L632.55,337.23 L632.80,336.83 L633.05,336.30 L633.30,335.65 L633.55,334.87 L633.80,333.96 L634.05,332.92 L634.30,331.77 L634.55,330.50 L634.80,329.10 L635.05,327.59 L635.30,325.97 L635.55,324.24 L635.80,322.40 L636.05,320.45 L636.30,318.41 L636.55,316.26 L636.80,314.02 L637.05,311.69 L637.30,309.27 L637.55,306.77 L637.80,304.19 L638.05,301.54 L638.30,298.81 L638.55,296.02 L638.80,293.17 L639.05,290.26 L639.30,287.30 L639.55,284.29 L639.80,281.24 L640.05,278.16 L640.30,275.04 L640.55,271.90 L640.80,268.73 L641.05,265.55 L641.30,262.36 L641.55,259.17 L641.80,255.97 L642.05,252.78 L642.30,249.60 L642.55,246.43 L642.80,243.28 L643.05,240.17 L643.30,237.08 L643.55,234.03 L643.80,231.02 L644.05,228.05 L644.30,225.14 L644.55,222.28 L644.80,219.49 L645.05,216.76 L645.30,214.10 L645.55,211.51 L645.80,209.01 L646.05,206.58 L646.30,204.24 L646.55,202.00 L646.80,199.85 L647.05,197.79 L647.30,195.84 L647.55,193.99 L647.80,192.25 L648.05,190.62 L648.30,189.10 L648.55,187.70 L648.80,186.42 L649.05,185.25 L649.30,184.21 L649.55,183.30 L649.80,182.50 L650.05,181.84 L650.30,181.30 L650.55,180.89 L650.80,180.61 L651.05,180.46 L651.30,180.44 L651.55,180.55 L651.80,180.78 L652.05,181.14 L652.30,181.62 L652.55,182.23 L652.80,182.95 L653.05,183.80 L653.30,184.78 L653.55,185.86 L653.80,187.07 L654.05,188.39 L654.30,189.83 L654.55,191.37 L654.80,193.03 L655.05,194.79 L655.30,196.65 L655.55,198.61 L655.80,200.68 L656.05,202.83 L656.30,205.07 L656.55,207.41 L656.80,209.82 L657.05,212.31 L657.30,214.88 L657.55,217.53 L657.80,220.23 L658.05,223.01 L658.30,225.84 L658.55,228.72 L658.80,231.65 L659.05,234.63 L659.30,237.65 L659.55,240.71 L659.80,243.79 L660.05,246.90 L660.30,250.03 L660.55,253.18 L660.80,256.34 L661.05,259.51 L661.30,262.67 L661.55,265.84 L661.80,268.99 L662.05,272.13 L662.30,275.25 L662.55,278.35 L662.80,281.42 L663.05,284.46 L663.30,287.45 L663.55,290.41 L663.80,293.31 L664.05,296.17 L664.30,298.97 L664.55,301.71 L664.80,304.38 L665.05,306.98 L665.30,309.51 L665.55,311.96 L665.80,314.33 L666.05,316.61 L666.30,318.81 L666.55,320.91 L666.80,322.92 L667.05,324.83 L667.30,326.64 L667.55,328.34 L667.80,329.93 L668.05,331.42 L668.30,332.79 L668.55,334.05 L668.80,335.19 L669.05,336.22 L669.30,337.12 L669.55,337.91 L669.80,338.57 L670.05,339.11 L670.30,339.52 L670.55,339.81 L670.80,339.97 L671.05,340.01 L671.30,339.90 L671.55,339.64 L671.80,339.22 L672.05,338.65 L672.30,337.92 L672.55,337.05 L672.80,336.03 L673.05,334.85 L673.30,333.53 L673.55,332.07 L673.80,330.47 L674.05,328.73 L674.30,326.85 L674.55,324.84 L674.80,322.70 L675.05,320.43 L675.30,318.05 L675.55,315.54 L675.80,312.92 L676.05,310.20 L676.30,307.36 L676.55,304.43 L676.80,301.41 L677.05,298.29 L677.30,295.09 L677.55,291.81 L677.80,288.46 L678.05,285.04 L678.30,281.56 L678.55,278.03 L678.80,274.44 L679.05,270.81 L679.30,267.14 L679.55,263.44 L679.80,259.71 L680.05,255.97 L680.30,252.21 L680.55,248.45 L680.80,244.69 L681.05,240.93 L681.30,237.19 L681.55,233.46 L681.80,229.76 L682.05,226.09 L682.30,222.46 L682.55,218.88 L682.80,215.34 L683.05,211.86 L683.30,208.44 L683.55,205.09 L683.80,201.82 L684.05,198.62 L684.30,195.51 L684.55,192.48 L684.80,189.55 L685.05,186.72 L685.30,184.00 L685.55,181.38 L685.80,178.88 L686.05,176.50 L686.30,174.23 L686.55,172.10 L686.80,170.09 L687.05,168.21 L687.30,166.47 L687.55,164.87 L687.80,163.41 L688.05,162.10 L688.30,160.93 L688.55,159.91 L688.80,159.04 L689.05,158.32 L689.30,157.75 L689.55,157.34 L689.80,157.08 L690.05,156.97 L690.30,157.02 L690.55,157.21 L690.80,157.54 L691.05,158.01 L691.30,158.63 L691.55,159.38 L691.80,160.28 L692.05,161.31 L692.30,162.49 L692.55,163.79 L692.80,165.23 L693.05,166.80 L693.30,168.50 L693.55,170.32 L693.80,172.26 L694.05,174.33 L694.30,176.51 L694.55,178.81 L694.80,181.22 L695.05,183.73 L695.30,186.34 L695.55,189.05 L695.80,191.86 L696.05,194.76 L696.30,197.74 L696.55,200.81 L696.80,203.95 L697.05,207.16 L697.30,210.44 L697.55,213.78 L697.80,217.17 L698.05,220.62 L698.30,224.11 L698.55,227.65 L698.80,231.22 L699.05,234.82 L699.30,238.44 L699.55,242.09 L699.80,245.74 L700.05,249.41 L700.30,253.07 L700.55,256.74 L700.80,260.39 L701.05,264.03 L701.30,267.65 L701.55,271.25 L701.80,274.81 L702.05,278.33 L702.30,281.82 L702.30,431.50 Z" fill="#a2b4ff"/>
<rect x="48" y="57.4" width="2" height="408.3" fill="#000"/>
<rect x="742" y="61.4" width="2" height="404.3" fill="#000"/>
<rect x="45" y="461.54" width="3" height="1" fill="#000"/>
<rect x="45" y="438.07" width="3" height="1" fill="#000"/>
<rect x="42" y="414.61" width="6" height="1" fill="#000"/>
<rect x="45" y="391.14" width="3" height="1" fill="#000"/>
<rect x="45" y="367.67" width="3" height="1" fill="#000"/>
<rect x="45" y="344.20" width="3" height="1" fill="#000"/>
<rect x="45" y="320.74" width="3" height="1" fill="#000"/>
<rect x="42" y="297.27" width="6" height="1" fill="#000"/>
<rect x="45" y="273.80" width="3" height="1" fill="#000"/>
<rect x="45" y="250.34" width="3" height="1" fill="#000"/>
<rect x="45" y="226.87" width="3" height="1" fill="#000"/>
<rect x="45" y="203.40" width="3" height="1" fill="#000"/>
<rect x="42" y="179.94" width="6" height="1" fill="#000"/>
<rect x="45" y="156.47" width="3" height="1" fill="#000"/>
<rect x="45" y="133.00" width="3" height="1" fill="#000"/>
<rect x="45" y="109.53" width="3" height="1" fill="#000"/>
<rect x="45" y="86.07" width="3" height="1" fill="#000"/>
<rect x="42" y="62.60" width="6" height="1" fill="#000"/>
<rect x="744" y="457.88" width="6" height="1" fill="#000"/>
<rect x="744" y="443.71" width="3" height="1" fill="#000"/>
<rect x="744" y="429.54" width="3" height="1" fill="#000"/>
<rect x="744" y="415.37" width="3" height="1" fill="#000"/>
<rect x="744" y="401.20" width="3" height="1" fill="#000"/>
<rect x="744" y="387.03" width="6" height="1" fill="#000"/>
<rect x="744" y="372.86" width="3" height="1" fill="#000"/>
<rect x="744" y="358.69" width="3" height="1" fill="#000"/>
<rect x="744" y="344.52" width="3" height="1" fill="#000"/>
<rect x="744" y="330.35" width="3" height="1" fill="#000"/>
<rect x="744" y="316.18" width="6" height="1" fill="#000"/>
<rect x="744" y="302.01" width="3" height="1" fill="#000"/>
<rect x="744" y="287.84" width="3" height="1" fill="#000"/>
<rect x="744" y="273.67" width="3" height="1" fill="#000"/>
<rect x="744" y="259.50" width="3" height="1" fill="#000"/>
<rect x="744" y="245.33" width="6" height="1" fill="#000"/>
<rect x="744" y="231.16" width="3" height="1" fill="#000"/>
<rect x="744" y="216.99" width="3" height="1" fill="#000"/>
<rect x="744" y="202.82" width="3" height="1" fill="#000"/>
<rect x="744" y="188.65" width="3" height="1" fill="#000"/>
<rect x="744" y="174.48" width="6" height="1" fill="#000"/>
<rect x="744" y="160.31" width="3" height="1" fill="#000"/>
<rect x="744" y="146.14" width="3" height="1" fill="#000"/>
<rect x="744" y="131.97" width="3" height="1" fill="#000"/>
<rect x="744" y="117.80" width="3" height="1" fill="#000"/>
<rect x="744" y="103.63" width="6" height="1" fill="#000"/>
<rect x="744" y="89.46" width="3" height="1" fill="#000"/>
<rect x="744" y="75.29" width="3" height="1" fill="#000"/>
<rect x="744" y="61.12" width="3" height="1" fill="#000"/>
<circle cx="117.77" cy="391.64" r="2" fill="#000"/>
<circle cx="137.13" cy="164.01" r="2" fill="#000"/>
<circle cx="157.02" cy="375.21" r="2" fill="#000"/>
<circle cx="176.97" cy="161.66" r="2" fill="#000"/>
<circle cx="196.65" cy="379.90" r="2" fill="#000"/>
<circle cx="216.33" cy="168.70" r="2" fill="#000"/>
<circle cx="236.17" cy="363.48" r="2" fill="#000"/>
<circle cx="256.01" cy="168.70" r="2" fill="#000"/>
<circle cx="275.53" cy="368.17" r="2" fill="#000"/>
<circle cx="295.37" cy="168.70" r="2" fill="#000"/>
<circle cx="315.27" cy="354.09" r="2" fill="#000"/>
<circle cx="335.00" cy="173.39" r="2" fill="#000"/>
<circle cx="354.52" cy="354.09" r="2" fill="#000"/>
<circle cx="374.31" cy="166.35" r="2" fill="#000"/>
<circle cx="394.41" cy="347.05" r="2" fill="#000"/>
<circle cx="413.99" cy="178.09" r="2" fill="#000"/>
<circle cx="433.61" cy="344.70" r="2" fill="#000"/>
<circle cx="453.19" cy="164.01" r="2" fill="#000"/>
<circle cx="473.51" cy="340.01" r="2" fill="#000"/>
<circle cx="493.03" cy="180.44" r="2" fill="#000"/>
<circle cx="512.81" cy="337.66" r="2" fill="#000"/>
<circle cx="532.12" cy="161.66" r="2" fill="#000"/>
<circle cx="552.65" cy="337.66" r="2" fill="#000"/>
<circle cx="572.12" cy="180.44" r="2" fill="#000"/>
<circle cx="591.96" cy="337.66" r="2" fill="#000"/>
<circle cx="611.11" cy="159.31" r="2" fill="#000"/>
<circle cx="631.91" cy="337.66" r="2" fill="#000"/>
<circle cx="651.21" cy="180.44" r="2" fill="#000"/>
<circle cx="671.00" cy="340.01" r="2" fill="#000"/>
<circle cx="690.09" cy="156.97" r="2" fill="#000"/>
<polygon points="149.84,468.70 152.31,472.50 156.69,473.68 153.84,477.20 154.08,481.72 149.84,480.10 145.61,481.72 145.85,477.20 143.00,473.68 147.38,472.50" fill="#6a5a26"/><circle cx="149.84" cy="475.90" r="3.95" fill="#b8b446" stroke="#9a6a1a" stroke-width="0.7"/>
<polygon points="120.27,482.10 122.68,485.78 126.93,486.94 124.17,490.37 124.39,494.76 120.27,493.20 116.16,494.76 116.37,490.37 113.61,486.94 117.86,485.78" fill="#4e5424"/><circle cx="120.27" cy="489.10" r="3.95" fill="#e08838" stroke="#5a5020" stroke-width="0.7"/><path d="M117.07,490.30 A3.5,3.5 0 0 0 123.47,490.30" fill="none" stroke="#e23a28" stroke-width="1.1" stroke-dasharray="1.6 1.4"/>
<circle cx="100.80" cy="503" r="5.1" fill="#ffffc8" stroke="#777" stroke-width="0.9"/>
<circle cx="142.56" cy="516.5" r="5.1" fill="#c8c8b2" stroke="#666" stroke-width="0.9"/>
<polygon points="226.38,468.70 228.85,472.50 233.23,473.68 230.38,477.20 230.62,481.72 226.38,480.10 222.15,481.72 222.39,477.20 219.54,473.68 223.92,472.50" fill="#6a5a26"/><circle cx="226.38" cy="475.90" r="3.95" fill="#b8b446" stroke="#9a6a1a" stroke-width="0.7"/>
<polygon points="196.97,482.10 199.38,485.78 203.63,486.94 200.87,490.37 201.08,494.76 196.97,493.20 192.86,494.76 193.07,490.37 190.31,486.94 194.56,485.78" fill="#4e5424"/><circle cx="196.97" cy="489.10" r="3.95" fill="#e08838" stroke="#5a5020" stroke-width="0.7"/><path d="M193.77,490.30 A3.5,3.5 0 0 0 200.17,490.30" fill="none" stroke="#e23a28" stroke-width="1.1" stroke-dasharray="1.6 1.4"/>
<circle cx="180.59" cy="503" r="5.1" fill="#ffffc8" stroke="#777" stroke-width="0.9"/>
<circle cx="220.37" cy="516.5" r="5.1" fill="#c8c8b2" stroke="#666" stroke-width="0.9"/>
<polygon points="302.98,468.70 305.45,472.50 309.83,473.68 306.97,477.20 307.21,481.72 302.98,480.10 298.75,481.72 298.98,477.20 296.13,473.68 300.51,472.50" fill="#6a5a26"/><circle cx="302.98" cy="475.90" r="3.95" fill="#b8b446" stroke="#9a6a1a" stroke-width="0.7"/>
<polygon points="273.62,482.10 276.03,485.78 280.27,486.94 277.52,490.37 277.73,494.76 273.62,493.20 269.50,494.76 269.72,490.37 266.96,486.94 271.21,485.78" fill="#4e5424"/><circle cx="273.62" cy="489.10" r="3.95" fill="#e08838" stroke="#5a5020" stroke-width="0.7"/><path d="M270.42,490.30 A3.5,3.5 0 0 0 276.82,490.30" fill="none" stroke="#e23a28" stroke-width="1.1" stroke-dasharray="1.6 1.4"/>
<circle cx="260.32" cy="503" r="5.1" fill="#ffffc8" stroke="#777" stroke-width="0.9"/>
<circle cx="298.08" cy="516.5" r="5.1" fill="#c8c8b2" stroke="#666" stroke-width="0.9"/>
<polygon points="379.52,468.70 381.99,472.50 386.37,473.68 383.51,477.20 383.75,481.72 379.52,480.10 375.29,481.72 375.52,477.20 372.67,473.68 377.05,472.50" fill="#6a5a26"/><circle cx="379.52" cy="475.90" r="3.95" fill="#b8b446" stroke="#9a6a1a" stroke-width="0.7"/>
<polygon points="350.26,482.10 352.67,485.78 356.92,486.94 354.16,490.37 354.38,494.76 350.26,493.20 346.15,494.76 346.36,490.37 343.61,486.94 347.85,485.78" fill="#4e5424"/><circle cx="350.26" cy="489.10" r="3.95" fill="#e08838" stroke="#5a5020" stroke-width="0.7"/><path d="M347.06,490.30 A3.5,3.5 0 0 0 353.46,490.30" fill="none" stroke="#e23a28" stroke-width="1.1" stroke-dasharray="1.6 1.4"/>
<circle cx="340.05" cy="503" r="5.1" fill="#ffffc8" stroke="#777" stroke-width="0.9"/>
<circle cx="375.90" cy="516.5" r="5.1" fill="#c8c8b2" stroke="#666" stroke-width="0.9"/>
<polygon points="456.11,468.70 458.58,472.50 462.96,473.68 460.11,477.20 460.34,481.72 456.11,480.10 451.88,481.72 452.12,477.20 449.26,473.68 453.64,472.50" fill="#6a5a26"/><circle cx="456.11" cy="475.90" r="3.95" fill="#b8b446" stroke="#9a6a1a" stroke-width="0.7"/>
<polygon points="426.91,482.10 429.32,485.78 433.57,486.94 430.81,490.37 431.03,494.76 426.91,493.20 422.80,494.76 423.01,490.37 420.25,486.94 424.50,485.78" fill="#4e5424"/><circle cx="426.91" cy="489.10" r="3.95" fill="#e08838" stroke="#5a5020" stroke-width="0.7"/><path d="M423.71,490.30 A3.5,3.5 0 0 0 430.11,490.30" fill="none" stroke="#e23a28" stroke-width="1.1" stroke-dasharray="1.6 1.4"/>
<circle cx="419.84" cy="503" r="5.1" fill="#ffffc8" stroke="#777" stroke-width="0.9"/>
<circle cx="453.88" cy="516.5" r="5.1" fill="#c8c8b2" stroke="#666" stroke-width="0.9"/>
<polygon points="532.65,468.70 535.12,472.50 539.50,473.68 536.65,477.20 536.88,481.72 532.65,480.10 528.42,481.72 528.66,477.20 525.80,473.68 530.18,472.50" fill="#6a5a26"/><circle cx="532.65" cy="475.90" r="3.95" fill="#b8b446" stroke="#9a6a1a" stroke-width="0.7"/>
<polygon points="503.56,482.10 505.97,485.78 510.22,486.94 507.46,490.37 507.67,494.76 503.56,493.20 499.44,494.76 499.66,490.37 496.90,486.94 501.15,485.78" fill="#4e5424"/><circle cx="503.56" cy="489.10" r="3.95" fill="#e08838" stroke="#5a5020" stroke-width="0.7"/><path d="M500.36,490.30 A3.5,3.5 0 0 0 506.76,490.30" fill="none" stroke="#e23a28" stroke-width="1.1" stroke-dasharray="1.6 1.4"/>
<circle cx="499.62" cy="503" r="5.1" fill="#ffffc8" stroke="#777" stroke-width="0.9"/>
<circle cx="531.96" cy="516.5" r="5.1" fill="#c8c8b2" stroke="#666" stroke-width="0.9"/>
<polygon points="609.25,468.70 611.71,472.50 616.09,473.68 613.24,477.20 613.48,481.72 609.25,480.10 605.01,481.72 605.25,477.20 602.40,473.68 606.78,472.50" fill="#6a5a26"/><circle cx="609.25" cy="475.90" r="3.95" fill="#b8b446" stroke="#9a6a1a" stroke-width="0.7"/>
<polygon points="580.20,482.10 582.61,485.78 586.86,486.94 584.10,490.37 584.32,494.76 580.20,493.20 576.09,494.76 576.31,490.37 573.55,486.94 577.79,485.78" fill="#4e5424"/><circle cx="580.20" cy="489.10" r="3.95" fill="#e08838" stroke="#5a5020" stroke-width="0.7"/><path d="M577.00,490.30 A3.5,3.5 0 0 0 583.40,490.30" fill="none" stroke="#e23a28" stroke-width="1.1" stroke-dasharray="1.6 1.4"/>
<circle cx="579.51" cy="503" r="5.1" fill="#ffffc8" stroke="#777" stroke-width="0.9"/>
<circle cx="610.36" cy="516.5" r="5.1" fill="#c8c8b2" stroke="#666" stroke-width="0.9"/>
<polygon points="685.84,468.70 688.31,472.50 692.69,473.68 689.83,477.20 690.07,481.72 685.84,480.10 681.61,481.72 681.85,477.20 678.99,473.68 683.37,472.50" fill="#6a5a26"/><circle cx="685.84" cy="475.90" r="3.95" fill="#b8b446" stroke="#9a6a1a" stroke-width="0.7"/>
<polygon points="656.85,482.10 659.26,485.78 663.51,486.94 660.75,490.37 660.97,494.76 656.85,493.20 652.74,494.76 652.95,490.37 650.19,486.94 654.44,485.78" fill="#4e5424"/><circle cx="656.85" cy="489.10" r="3.95" fill="#e08838" stroke="#5a5020" stroke-width="0.7"/><path d="M653.65,490.30 A3.5,3.5 0 0 0 660.05,490.30" fill="none" stroke="#e23a28" stroke-width="1.1" stroke-dasharray="1.6 1.4"/>
<circle cx="659.35" cy="503" r="5.1" fill="#ffffc8" stroke="#777" stroke-width="0.9"/>
<circle cx="689.03" cy="516.5" r="5.1" fill="#c8c8b2" stroke="#666" stroke-width="0.9"/>
<rect x="585.87" y="528" width="1" height="8.5" fill="#333"/>
<polygon points="394.3,323.3 403.2,323.3 398.8,316.3" fill="#eeee50" stroke="#8a6a20" stroke-width="0.7"/>
<text x="35.50" y="68.20" font-size="12" text-anchor="end" fill="#000" font-weight="normal">2.0 m</text>
<text x="35.50" y="185.53" font-size="12" text-anchor="end" fill="#000" font-weight="normal">1.5 m</text>
<text x="35.50" y="302.87" font-size="12" text-anchor="end" fill="#000" font-weight="normal">1.0 m</text>
<text x="35.50" y="420.21" font-size="12" text-anchor="end" fill="#000" font-weight="normal">0.5 m</text>
<text x="757.00" y="462.98" font-size="12" text-anchor="start" fill="#000" font-weight="normal">1 ft</text>
<text x="757.00" y="392.13" font-size="12" text-anchor="start" fill="#000" font-weight="normal">2 ft</text>
<text x="757.00" y="321.28" font-size="12" text-anchor="start" fill="#000" font-weight="normal">3 ft</text>
<text x="757.00" y="250.43" font-size="12" text-anchor="start" fill="#000" font-weight="normal">4 ft</text>
<text x="757.00" y="179.58" font-size="12" text-anchor="start" fill="#000" font-weight="normal">5 ft</text>
<text x="757.00" y="108.73" font-size="12" text-anchor="start" fill="#000" font-weight="normal">6 ft</text>
<text x="93.20" y="41.80" font-size="11" text-anchor="middle" fill="#ff0000" font-weight="normal">Tue</text>
<text x="93.20" y="52.70" font-size="11" text-anchor="middle" fill="#ff0000" font-weight="normal">24−Nov</text>
<text x="169.79" y="41.80" font-size="11" text-anchor="middle" fill="#ff0000" font-weight="normal">Wed</text>
<text x="169.79" y="52.70" font-size="11" text-anchor="middle" fill="#ff0000" font-weight="normal">25−Nov</text>
<text x="246.38" y="41.80" font-size="11" text-anchor="middle" fill="#ff0000" font-weight="normal">Thu</text>
<text x="246.38" y="52.70" font-size="11" text-anchor="middle" fill="#ff0000" font-weight="normal">26−Nov</text>
<text x="322.98" y="41.80" font-size="11" text-anchor="middle" fill="#ff0000" font-weight="normal">Fri</text>
<text x="322.98" y="52.70" font-size="11" text-anchor="middle" fill="#ff0000" font-weight="normal">27−Nov</text>
<text x="399.57" y="41.80" font-size="11" text-anchor="middle" fill="#ff0000" font-weight="normal">Sat</text>
<text x="399.57" y="52.70" font-size="11" text-anchor="middle" fill="#ff0000" font-weight="normal">28−Nov</text>
<text x="476.16" y="41.80" font-size="11" text-anchor="middle" fill="#ff0000" font-weight="normal">Sun</text>
<text x="476.16" y="52.70" font-size="11" text-anchor="middle" fill="#ff0000" font-weight="normal">29−Nov</text>
<text x="552.76" y="41.80" font-size="11" text-anchor="middle" fill="#ff0000" font-weight="normal">Mon</text>
<text x="552.76" y="52.70" font-size="11" text-anchor="middle" fill="#ff0000" font-weight="normal">30−Nov</text>
<text x="629.35" y="41.80" font-size="11" text-anchor="middle" fill="#ff0000" font-weight="normal">Tue</text>
<text x="629.35" y="52.70" font-size="11" text-anchor="middle" fill="#ff0000" font-weight="normal">01−Dec</text>
<text x="705.95" y="41.80" font-size="11" text-anchor="middle" fill="#ff0000" font-weight="normal">Wed</text>
<text x="705.95" y="52.70" font-size="11" text-anchor="middle" fill="#ff0000" font-weight="normal">02−Dec</text>
<text x="396.30" y="14.70" font-size="16.7" text-anchor="middle" fill="#000" font-weight="normal">Houghton Bay: rising&#160; ordinary tide at 0.9m (2.9ft)</text>
<text x="396.50" y="28.70" font-size="11" text-anchor="middle" fill="#000" font-weight="bold">Image captured One hour and 24 minutes after low water. Times are NZDT (UTC +13.0hrs)</text>
<text x="117.77" y="402.24" font-size="9.5" text-anchor="middle" fill="#000" font-weight="normal">0.60 m</text>
<text x="117.77" y="412.04" font-size="9.5" text-anchor="middle" fill="#000" font-weight="normal">2.0 ft</text>
<text x="117.77" y="421.84" font-size="9.5" text-anchor="middle" fill="#000" font-weight="normal">7:42 pm</text>
<text x="137.13" y="142.61" font-size="9.5" text-anchor="middle" fill="#000" font-weight="normal">1:46 am</text>
<text x="137.13" y="151.01" font-size="9.5" text-anchor="middle" fill="#000" font-weight="normal">5.2 ft</text>
<text x="137.13" y="160.71" font-size="9.5" text-anchor="middle" fill="#000" font-weight="normal">1.57 m</text>
<text x="157.02" y="385.81" font-size="9.5" text-anchor="middle" fill="#000" font-weight="normal">0.67 m</text>
<text x="157.02" y="395.61" font-size="9.5" text-anchor="middle" fill="#000" font-weight="normal">2.2 ft</text>
<text x="157.02" y="405.41" font-size="9.5" text-anchor="middle" fill="#000" font-weight="normal">8:00 am</text>
<text x="176.97" y="140.26" font-size="9.5" text-anchor="middle" fill="#000" font-weight="normal">2:15 pm</text>
<text x="176.97" y="148.66" font-size="9.5" text-anchor="middle" fill="#000" font-weight="normal">5.2 ft</text>
<text x="176.97" y="158.36" font-size="9.5" text-anchor="middle" fill="#000" font-weight="normal">1.58 m</text>
<text x="196.65" y="390.50" font-size="9.5" text-anchor="middle" fill="#000" font-weight="normal">0.65 m</text>
<text x="196.65" y="400.30" font-size="9.5" text-anchor="middle" fill="#000" font-weight="normal">2.1 ft</text>
<text x="196.65" y="410.10" font-size="9.5" text-anchor="middle" fill="#000" font-weight="normal">8:25 pm</text>
<text x="216.33" y="147.30" font-size="9.5" text-anchor="middle" fill="#000" font-weight="normal">2:35 am</text>
<text x="216.33" y="155.70" font-size="9.5" text-anchor="middle" fill="#000" font-weight="normal">5.1 ft</text>
<text x="216.33" y="165.40" font-size="9.5" text-anchor="middle" fill="#000" font-weight="normal">1.55 m</text>
<text x="236.17" y="374.08" font-size="9.5" text-anchor="middle" fill="#000" font-weight="normal">0.72 m</text>
<text x="236.17" y="383.88" font-size="9.5" text-anchor="middle" fill="#000" font-weight="normal">2.4 ft</text>
<text x="236.17" y="393.68" font-size="9.5" text-anchor="middle" fill="#000" font-weight="normal">8:48 am</text>
<text x="256.01" y="147.30" font-size="9.5" text-anchor="middle" fill="#000" font-weight="normal">3:01 pm</text>
<text x="256.01" y="155.70" font-size="9.5" text-anchor="middle" fill="#000" font-weight="normal">5.1 ft</text>
<text x="256.01" y="165.40" font-size="9.5" text-anchor="middle" fill="#000" font-weight="normal">1.55 m</text>
<text x="275.53" y="378.77" font-size="9.5" text-anchor="middle" fill="#000" font-weight="normal">0.70 m</text>
<text x="275.53" y="388.57" font-size="9.5" text-anchor="middle" fill="#000" font-weight="normal">2.3 ft</text>
<text x="275.53" y="398.37" font-size="9.5" text-anchor="middle" fill="#000" font-weight="normal">9:08 pm</text>
<text x="295.37" y="147.30" font-size="9.5" text-anchor="middle" fill="#000" font-weight="normal">3:21 am</text>
<text x="295.37" y="155.70" font-size="9.5" text-anchor="middle" fill="#000" font-weight="normal">5.1 ft</text>
<text x="295.37" y="165.40" font-size="9.5" text-anchor="middle" fill="#000" font-weight="normal">1.55 m</text>
<text x="315.27" y="364.69" font-size="9.5" text-anchor="middle" fill="#000" font-weight="normal">0.76 m</text>
<text x="315.27" y="374.49" font-size="9.5" text-anchor="middle" fill="#000" font-weight="normal">2.5 ft</text>
<text x="315.27" y="384.29" font-size="9.5" text-anchor="middle" fill="#000" font-weight="normal">9:35 am</text>
<text x="335.00" y="151.99" font-size="9.5" text-anchor="middle" fill="#000" font-weight="normal">3:46 pm</text>
<text x="335.00" y="160.39" font-size="9.5" text-anchor="middle" fill="#000" font-weight="normal">5.0 ft</text>
<text x="335.00" y="170.09" font-size="9.5" text-anchor="middle" fill="#000" font-weight="normal">1.53 m</text>
<text x="354.52" y="364.69" font-size="9.5" text-anchor="middle" fill="#000" font-weight="normal">0.76 m</text>
<text x="354.52" y="374.49" font-size="9.5" text-anchor="middle" fill="#000" font-weight="normal">2.5 ft</text>
<text x="354.52" y="384.29" font-size="9.5" text-anchor="middle" fill="#000" font-weight="normal">9:53 pm</text>
<text x="374.31" y="144.95" font-size="9.5" text-anchor="middle" fill="#000" font-weight="normal">4:05 am</text>
<text x="374.31" y="153.35" font-size="9.5" text-anchor="middle" fill="#000" font-weight="normal">5.1 ft</text>
<text x="374.31" y="163.05" font-size="9.5" text-anchor="middle" fill="#000" font-weight="normal">1.56 m</text>
<text x="394.41" y="357.65" font-size="9.5" text-anchor="middle" fill="#000" font-weight="normal">0.79 m</text>
<text x="394.41" y="367.45" font-size="9.5" text-anchor="middle" fill="#000" font-weight="normal">2.6 ft</text>
<text x="394.41" y="377.25" font-size="9.5" text-anchor="middle" fill="#000" font-weight="normal">10:23 am</text>
<text x="413.99" y="156.69" font-size="9.5" text-anchor="middle" fill="#000" font-weight="normal">4:31 pm</text>
<text x="413.99" y="165.09" font-size="9.5" text-anchor="middle" fill="#000" font-weight="normal">5.0 ft</text>
<text x="413.99" y="174.79" font-size="9.5" text-anchor="middle" fill="#000" font-weight="normal">1.51 m</text>
<text x="433.61" y="355.30" font-size="9.5" text-anchor="middle" fill="#000" font-weight="normal">0.80 m</text>
<text x="433.61" y="365.10" font-size="9.5" text-anchor="middle" fill="#000" font-weight="normal">2.6 ft</text>
<text x="433.61" y="374.90" font-size="9.5" text-anchor="middle" fill="#000" font-weight="normal">10:40 pm</text>
<text x="453.19" y="142.61" font-size="9.5" text-anchor="middle" fill="#000" font-weight="normal">4:48 am</text>
<text x="453.19" y="151.01" font-size="9.5" text-anchor="middle" fill="#000" font-weight="normal">5.2 ft</text>
<text x="453.19" y="160.71" font-size="9.5" text-anchor="middle" fill="#000" font-weight="normal">1.57 m</text>
<text x="473.51" y="350.61" font-size="9.5" text-anchor="middle" fill="#000" font-weight="normal">0.82 m</text>
<text x="473.51" y="360.41" font-size="9.5" text-anchor="middle" fill="#000" font-weight="normal">2.7 ft</text>
<text x="473.51" y="370.21" font-size="9.5" text-anchor="middle" fill="#000" font-weight="normal">11:10 am</text>
<text x="493.03" y="159.03" font-size="9.5" text-anchor="middle" fill="#000" font-weight="normal">5:17 pm</text>
<text x="493.03" y="167.44" font-size="9.5" text-anchor="middle" fill="#000" font-weight="normal">4.9 ft</text>
<text x="493.03" y="177.13" font-size="9.5" text-anchor="middle" fill="#000" font-weight="normal">1.50 m</text>
<text x="512.81" y="348.26" font-size="9.5" text-anchor="middle" fill="#000" font-weight="normal">0.83 m</text>
<text x="512.81" y="358.06" font-size="9.5" text-anchor="middle" fill="#000" font-weight="normal">2.7 ft</text>
<text x="512.81" y="367.86" font-size="9.5" text-anchor="middle" fill="#000" font-weight="normal">11:29 pm</text>
<text x="532.12" y="140.26" font-size="9.5" text-anchor="middle" fill="#000" font-weight="normal">5:32 am</text>
<text x="532.12" y="148.66" font-size="9.5" text-anchor="middle" fill="#000" font-weight="normal">5.2 ft</text>
<text x="532.12" y="158.36" font-size="9.5" text-anchor="middle" fill="#000" font-weight="normal">1.58 m</text>
<text x="552.65" y="348.26" font-size="9.5" text-anchor="middle" fill="#000" font-weight="normal">0.83 m</text>
<text x="552.65" y="358.06" font-size="9.5" text-anchor="middle" fill="#000" font-weight="normal">2.7 ft</text>
<text x="552.65" y="367.86" font-size="9.5" text-anchor="middle" fill="#000" font-weight="normal">11:58 am</text>
<text x="572.12" y="159.03" font-size="9.5" text-anchor="middle" fill="#000" font-weight="normal">6:04 pm</text>
<text x="572.12" y="167.44" font-size="9.5" text-anchor="middle" fill="#000" font-weight="normal">4.9 ft</text>
<text x="572.12" y="177.13" font-size="9.5" text-anchor="middle" fill="#000" font-weight="normal">1.50 m</text>
<text x="591.96" y="348.26" font-size="9.5" text-anchor="middle" fill="#000" font-weight="normal">0.83 m</text>
<text x="591.96" y="358.06" font-size="9.5" text-anchor="middle" fill="#000" font-weight="normal">2.7 ft</text>
<text x="591.96" y="367.86" font-size="9.5" text-anchor="middle" fill="#000" font-weight="normal">12:17 am</text>
<text x="611.11" y="137.91" font-size="9.5" text-anchor="middle" fill="#000" font-weight="normal">6:17 am</text>
<text x="611.11" y="146.31" font-size="9.5" text-anchor="middle" fill="#000" font-weight="normal">5.2 ft</text>
<text x="611.11" y="156.01" font-size="9.5" text-anchor="middle" fill="#000" font-weight="normal">1.59 m</text>
<text x="631.91" y="348.26" font-size="9.5" text-anchor="middle" fill="#000" font-weight="normal">0.83 m</text>
<text x="631.91" y="358.06" font-size="9.5" text-anchor="middle" fill="#000" font-weight="normal">2.7 ft</text>
<text x="631.91" y="367.86" font-size="9.5" text-anchor="middle" fill="#000" font-weight="normal">12:48 pm</text>
<text x="651.21" y="159.03" font-size="9.5" text-anchor="middle" fill="#000" font-weight="normal">6:51 pm</text>
<text x="651.21" y="167.44" font-size="9.5" text-anchor="middle" fill="#000" font-weight="normal">4.9 ft</text>
<text x="651.21" y="177.13" font-size="9.5" text-anchor="middle" fill="#000" font-weight="normal">1.50 m</text>
<text x="671.00" y="350.61" font-size="9.5" text-anchor="middle" fill="#000" font-weight="normal">0.82 m</text>
<text x="671.00" y="360.41" font-size="9.5" text-anchor="middle" fill="#000" font-weight="normal">2.7 ft</text>
<text x="671.00" y="370.21" font-size="9.5" text-anchor="middle" fill="#000" font-weight="normal">1:03 am</text>
<text x="690.09" y="135.57" font-size="9.5" text-anchor="middle" fill="#000" font-weight="normal">7:02 am</text>
<text x="690.09" y="143.97" font-size="9.5" text-anchor="middle" fill="#000" font-weight="normal">5.2 ft</text>
<text x="690.09" y="153.67" font-size="9.5" text-anchor="middle" fill="#000" font-weight="normal">1.60 m</text>
<text x="45.80" y="480.10" font-size="11" text-anchor="end" fill="#000" font-weight="normal">Sunrise</text>
<text x="746.70" y="480.10" font-size="11" text-anchor="start" fill="#000" font-weight="normal">Sunrise</text>
<text x="45.80" y="493.70" font-size="11" text-anchor="end" fill="#000" font-weight="normal">Sunset</text>
<text x="746.70" y="493.70" font-size="11" text-anchor="start" fill="#000" font-weight="normal">Sunset</text>
<text x="45.80" y="507.20" font-size="11" text-anchor="end" fill="#000" font-weight="normal">Moonrise</text>
<text x="746.70" y="507.20" font-size="11" text-anchor="start" fill="#000" font-weight="normal">Moonrise</text>
<text x="45.80" y="520.70" font-size="11" text-anchor="end" fill="#000" font-weight="normal">Moonset</text>
<text x="746.70" y="520.70" font-size="11" text-anchor="start" fill="#000" font-weight="normal">Moonset</text>
<text x="156.44" y="479.40" font-size="9.45" text-anchor="start" fill="#000" font-weight="normal">5:45am</text>
<text x="126.87" y="493.60" font-size="9.45" text-anchor="start" fill="#000" font-weight="normal">8:29pm</text>
<text x="107.40" y="507.50" font-size="9.45" text-anchor="start" fill="#000" font-weight="normal">2:23pm</text>
<text x="149.26" y="520.10" font-size="9.45" text-anchor="start" fill="#000" font-weight="normal">3:28am</text>
<text x="232.98" y="479.40" font-size="9.45" text-anchor="start" fill="#000" font-weight="normal">5:44am</text>
<text x="203.57" y="493.60" font-size="9.45" text-anchor="start" fill="#000" font-weight="normal">8:31pm</text>
<text x="187.19" y="507.50" font-size="9.45" text-anchor="start" fill="#000" font-weight="normal">3:23pm</text>
<text x="227.07" y="520.10" font-size="9.45" text-anchor="start" fill="#000" font-weight="normal">3:51am</text>
<text x="309.58" y="479.40" font-size="9.45" text-anchor="start" fill="#000" font-weight="normal">5:44am</text>
<text x="280.22" y="493.60" font-size="9.45" text-anchor="start" fill="#000" font-weight="normal">8:32pm</text>
<text x="266.92" y="507.50" font-size="9.45" text-anchor="start" fill="#000" font-weight="normal">4:22pm</text>
<text x="304.78" y="520.10" font-size="9.45" text-anchor="start" fill="#000" font-weight="normal">4:12am</text>
<text x="386.12" y="479.40" font-size="9.45" text-anchor="start" fill="#000" font-weight="normal">5:43am</text>
<text x="356.86" y="493.60" font-size="9.45" text-anchor="start" fill="#000" font-weight="normal">8:33pm</text>
<text x="346.65" y="507.50" font-size="9.45" text-anchor="start" fill="#000" font-weight="normal">5:21pm</text>
<text x="382.60" y="520.10" font-size="9.45" text-anchor="start" fill="#000" font-weight="normal">4:35am</text>
<text x="462.71" y="479.40" font-size="9.45" text-anchor="start" fill="#000" font-weight="normal">5:43am</text>
<text x="433.51" y="493.60" font-size="9.45" text-anchor="start" fill="#000" font-weight="normal">8:34pm</text>
<text x="426.44" y="507.50" font-size="9.45" text-anchor="start" fill="#000" font-weight="normal">6:21pm</text>
<text x="460.58" y="520.10" font-size="9.45" text-anchor="start" fill="#000" font-weight="normal">5:01am</text>
<text x="539.25" y="479.40" font-size="9.45" text-anchor="start" fill="#000" font-weight="normal">5:42am</text>
<text x="510.16" y="493.60" font-size="9.45" text-anchor="start" fill="#000" font-weight="normal">8:35pm</text>
<text x="506.22" y="507.50" font-size="9.45" text-anchor="start" fill="#000" font-weight="normal">7:21pm</text>
<text x="538.66" y="520.10" font-size="9.45" text-anchor="start" fill="#000" font-weight="normal">5:29am</text>
<text x="615.85" y="479.40" font-size="9.45" text-anchor="start" fill="#000" font-weight="normal">5:42am</text>
<text x="586.80" y="493.60" font-size="9.45" text-anchor="start" fill="#000" font-weight="normal">8:36pm</text>
<text x="586.11" y="507.50" font-size="9.45" text-anchor="start" fill="#000" font-weight="normal">8:23pm</text>
<text x="617.06" y="520.10" font-size="9.45" text-anchor="start" fill="#000" font-weight="normal">6:03am</text>
<text x="692.44" y="479.40" font-size="9.45" text-anchor="start" fill="#000" font-weight="normal">5:42am</text>
<text x="663.45" y="493.60" font-size="9.45" text-anchor="start" fill="#000" font-weight="normal">8:37pm</text>
<text x="665.95" y="507.50" font-size="9.45" text-anchor="start" fill="#000" font-weight="normal">9:24pm</text>
<text x="695.73" y="520.10" font-size="9.45" text-anchor="start" fill="#000" font-weight="normal">6:42am</text>
<text x="582.97" y="533.30" font-size="9.6" text-anchor="end" fill="#000" font-weight="normal">Full Moon</text>
<text x="589.97" y="533.30" font-size="9.6" text-anchor="start" fill="#000" font-weight="normal">10:32pm</text>
</svg></body></html>
